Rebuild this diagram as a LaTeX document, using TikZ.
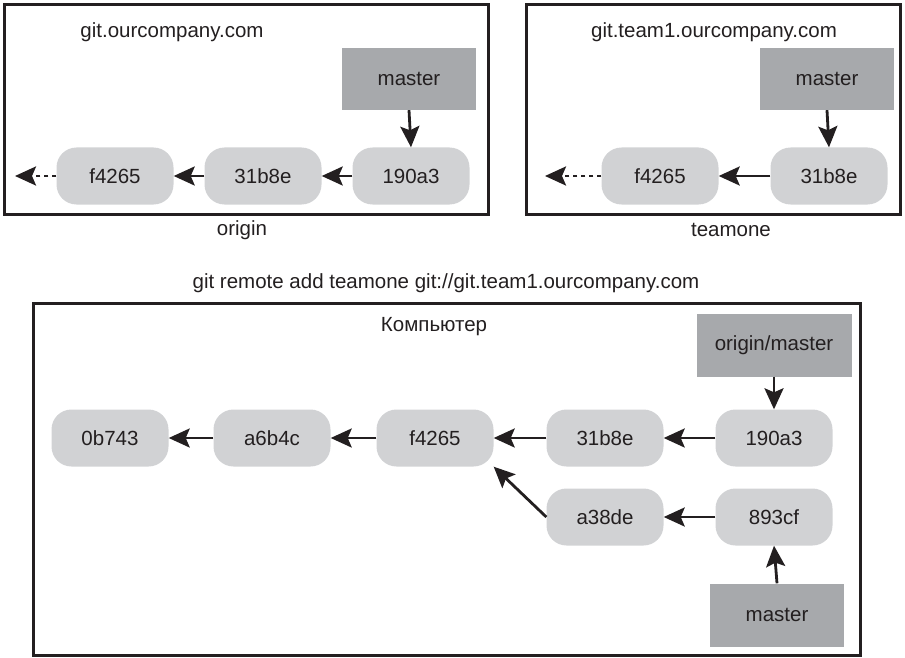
\documentclass[tikz,border=0pt]{standalone}
\usepackage{fontspec}
\setmainfont{Liberation Sans}
\usetikzlibrary{arrows.meta}
\definecolor{ink}{HTML}{231F20}
\definecolor{commitfill}{HTML}{D1D2D4}
\definecolor{branchfill}{HTML}{A7A9AC}
\tikzset{
  commit/.style={fill=commitfill, rounded corners=20pt, minimum width=117pt, minimum height=57pt, inner sep=0pt, text=ink, font=\fontsize{20.5}{24}\selectfont},
  branch/.style={fill=branchfill, minimum height=62pt, inner sep=0pt, text=ink, font=\fontsize{20.5}{24}\selectfont},
  frame/.style={draw=ink, line width=3pt},
  lbl/.style={text=ink, font=\fontsize{20.5}{24}\selectfont, inner sep=0pt},
  link/.style={draw=ink, line width=2.8pt, -{Stealth[length=21pt,width=19pt,inset=4pt]}},
  dlink/.style={link, dash pattern=on 4.5pt off 3.5pt}
}
\begin{document}
\begin{tikzpicture}[x=1pt,y=-1pt]
\useasboundingbox (0,0) rectangle (905,658);
% frames
\draw[frame] (4,5) rectangle (488,214);
\draw[frame] (526,5) rectangle (900,214);
\draw[frame] (33,303) rectangle (860,655);
% labels
\node[lbl] (t1) at (172,32) {git.ourcompany.com};
\node[lbl] (t2) at (714,32) {git.team1.ourcompany.com};
\node[lbl] (o1) at (242,230) {origin};
\node[lbl] (o2) at (731,230) {teamone};
\node[lbl] (cmd) at (446,283) {git remote add teamone git://git.team1.ourcompany.com};
\node[lbl] (pc) at (434,327) {Компьютер};
% origin repo
\node[branch, minimum width=134pt] (om) at (409,79) {master};
\node[commit] (oa) at (115,176) {f4265};
\node[commit] (ob) at (263,176) {31b8e};
\node[commit] (oc) at (411,176) {190a3};
\coordinate (oend) at (15,176);
\draw[link] (om.south) -- (oc.north);
\draw[link] (oc) -- (ob);
\draw[link] (ob) -- (oa);
\draw[dlink] (oa.west) -- (oend);
% teamone repo
\node[branch, minimum width=134pt] (tm) at (827,79) {master};
\node[commit] (ta) at (660,176) {f4265};
\node[commit] (tb) at (829,176) {31b8e};
\coordinate (tend) at (545,176);
\draw[link] (tm.south) -- (tb.north);
\draw[link] (tb) -- (ta);
\draw[dlink] (ta.west) -- (tend);
% local
\node[branch, minimum width=155pt, minimum height=63pt] (lom) at (774,345) {origin/master};
\node[commit] (l1) at (110,438) {0b743};
\node[commit] (l2) at (272,438) {a6b4c};
\node[commit] (l3) at (435,438) {f4265};
\node[commit] (l4) at (605,438) {31b8e};
\node[commit] (l5) at (774,438) {190a3};
\node[commit] (l6) at (605,517) {a38de};
\node[commit] (l7) at (774,517) {893cf};
\node[branch, minimum width=134pt, minimum height=63pt] (lm) at (777,615) {master};
\draw[link] (lom.south) -- (l5.north);
\draw[link] (l5) -- (l4);
\draw[link] (l4) -- (l3);
\draw[link] (l3) -- (l2);
\draw[link] (l2) -- (l1);
\draw[link] (l7) -- (l6);
\draw[link] (l6.west) -- (l3.south east);
\draw[link] (lm.north) -- (l7.south);
\end{tikzpicture}
\end{document}
